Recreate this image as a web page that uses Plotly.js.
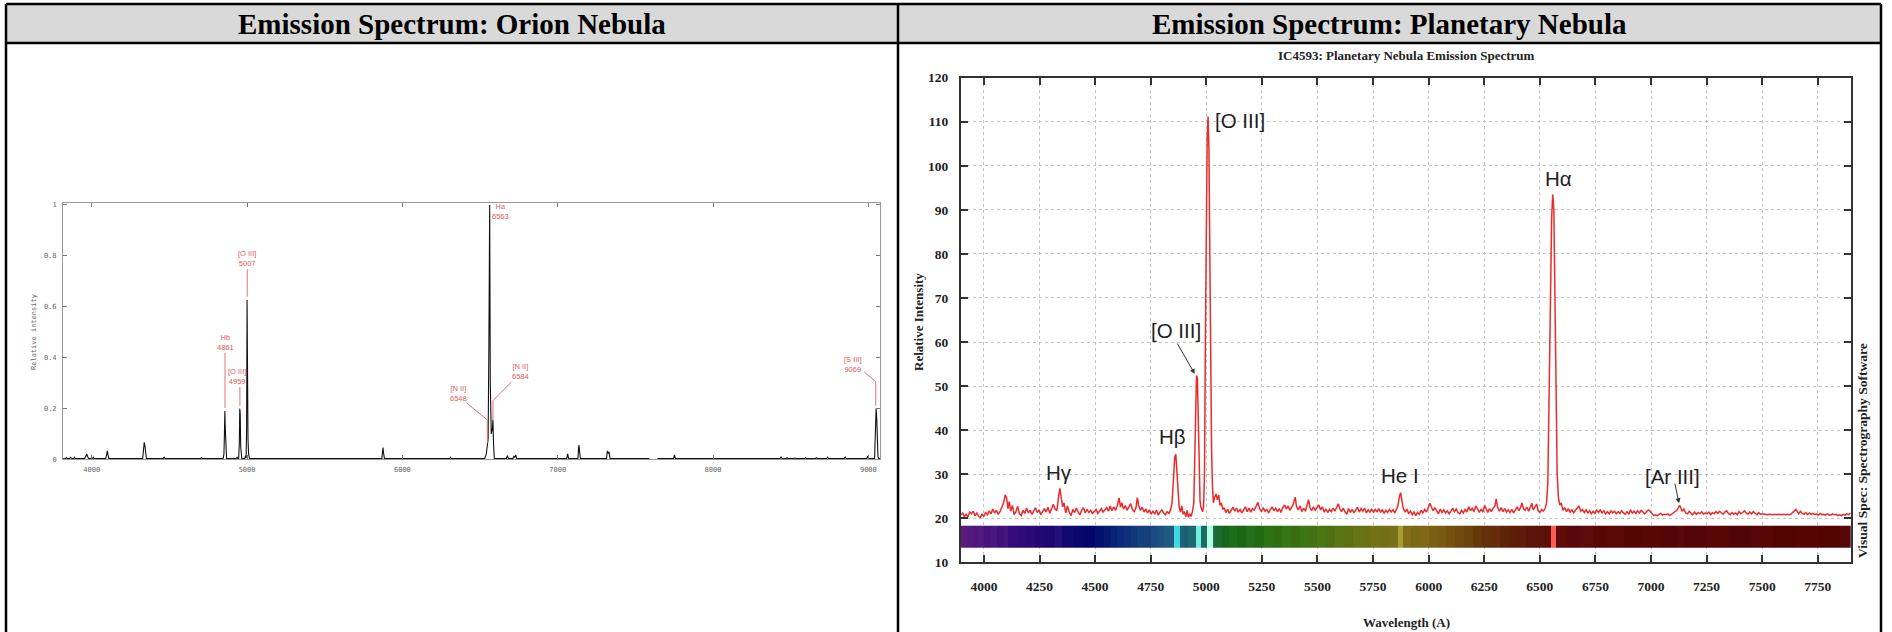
<!DOCTYPE html>
<html>
<head>
<meta charset="utf-8">
<script src="https://cdn.plot.ly/plotly-3.0.1.min.js"></script>
<style>html,body{margin:0;padding:0;background:#fff;}#chart{width:1892px;height:632px;}</style>
</head>
<body>
<div id="chart"></div>
<script>
// ---------------- Orion Nebula spectrum (left) ----------------
const orionWave = [3815,3830,3836,3842,3858,3864,3870,3884,3889,3894,3955,3962,3968,3974,3980,4005,4010,4015,4090,4096,4100,4104,4110,4328,4334,4338,4342,4346,4352,4460,4466,4472,4700,4706,4712,4846,4851,4854,4857,4860,4863,4868,4930,4936,4941,4946,4950,4953,4956,4959,4962,4966,4985,4990,4994,4997,5000,5003,5006,5010,5016,5868,5872,5875,5879,5884,6305,6310,6315,6530,6540,6546,6552,6557,6562,6566,6572,6579,6583,6587,6592,6670,6676,6682,6712,6718,6724,6730,6736,7058,7064,7070,7130,7134,7137,7141,7146,7314,7320,7326,7331,7337,7590,7592,7640,7642,7746,7752,7758,8432,8438,8444,8470,8476,8482,8520,8526,8532,8590,8596,8602,8660,8666,8672,8732,8738,8744,8845,8851,8857,8990,8996,9002,9040,9046,9050,9054,9058,9062,9066,9075];
const orionIntensity = [0.002,0.003,0.007,0.003,0.003,0.008,0.004,0.003,0.008,0.003,0.003,0.012,0.021,0.010,0.003,0.003,0.008,0.003,0.003,0.018,0.033,0.020,0.003,0.003,0.030,0.067,0.055,0.020,0.003,0.003,0.008,0.003,0.003,0.006,0.003,0.003,0.020,0.090,0.190,0.120,0.040,0.003,0.003,0.008,0.003,0.003,0.060,0.200,0.180,0.050,0.020,0.003,0.003,0.014,0.005,0.120,0.626,0.260,0.080,0.020,0.003,0.003,0.030,0.046,0.025,0.003,0.003,0.008,0.003,0.003,0.020,0.050,0.080,0.460,1.000,0.300,0.100,0.120,0.155,0.060,0.003,0.003,0.014,0.003,0.003,0.012,0.008,0.017,0.003,0.003,0.021,0.003,0.003,0.040,0.056,0.030,0.003,0.003,0.033,0.025,0.028,0.003,0.003,null,null,0.003,0.003,0.017,0.003,0.003,0.010,0.003,0.003,0.006,0.003,0.003,0.005,0.003,0.003,0.007,0.003,0.003,0.006,0.003,0.003,0.008,0.003,0.003,0.009,0.003,0.003,0.012,0.003,0.003,0.100,0.200,0.160,0.060,0.010,0.003,0.003];
const orionTickVals = [4000,5000,6000,7000,8000,9000];
const orionLabels = ['Hb<br>4861','[O III]<br>4959','[O III]<br>5007','[N II]<br>6548','Ha<br>6563','[N II]<br>6584','[S III]<br>9069'];
const orionLabelWave = [4858,4936,5001,6362,6632,6759,8903];
const orionLabelVal = [0.46,0.326,0.788,0.259,0.974,0.345,0.373];
const orionLeaderWave = [[4858,4858],[4954,4954],[5001,5001],[6414,6547,6547],[],[6701,6583,6583],[8974,9048,9048]];
const orionLeaderVal = [[0.418,0.202],[0.284,0.21],[0.748,0.639],[0.221,0.155,0.064],[],[0.304,0.23,0.155],[0.343,0.305,0.21]];

// ---------------- Planetary nebula IC4593 spectrum (right) ----------------
const planWave = [3897,3905,3912,3920,3928,3936,3944,3952,3960,3968,3976,3984,3992,4000,4008,4016,4024,4032,4040,4048,4056,4064,4072,4080,4088,4096,4102,4108,4114,4120,4128,4136,4144,4152,4160,4168,4176,4184,4192,4200,4208,4216,4224,4232,4240,4248,4256,4264,4272,4280,4288,4296,4304,4312,4320,4328,4336,4342,4348,4354,4360,4368,4376,4384,4392,4400,4408,4416,4424,4432,4440,4448,4456,4464,4472,4480,4488,4496,4504,4512,4520,4528,4536,4544,4552,4560,4568,4576,4584,4592,4600,4608,4614,4620,4628,4636,4644,4652,4660,4668,4676,4684,4690,4696,4704,4712,4720,4728,4736,4744,4752,4760,4768,4776,4784,4792,4800,4808,4816,4824,4832,4840,4846,4852,4858,4863,4868,4873,4878,4884,4890,4896,4902,4908,4914,4920,4926,4932,4938,4944,4948,4952,4956,4960,4964,4968,4972,4976,4980,4984,4988,4992,4996,5000,5004,5008,5012,5016,5020,5024,5028,5032,5038,5044,5050,5056,5062,5068,5074,5080,5088,5096,5104,5112,5120,5128,5136,5144,5152,5160,5168,5176,5184,5192,5200,5208,5216,5224,5232,5240,5248,5256,5264,5272,5280,5288,5296,5304,5312,5320,5328,5336,5344,5352,5360,5368,5376,5384,5392,5400,5406,5414,5422,5430,5438,5446,5454,5460,5466,5474,5482,5490,5498,5506,5514,5522,5530,5538,5546,5554,5562,5570,5578,5586,5594,5600,5608,5616,5624,5632,5640,5648,5656,5664,5672,5680,5688,5696,5704,5712,5720,5728,5736,5744,5752,5760,5768,5776,5784,5792,5800,5808,5816,5824,5832,5840,5848,5856,5862,5868,5874,5880,5886,5894,5902,5910,5918,5926,5934,5942,5950,5958,5966,5974,5982,5990,5998,6006,6012,6020,6028,6036,6044,6052,6060,6068,6076,6084,6092,6100,6108,6116,6124,6132,6140,6148,6156,6164,6172,6180,6188,6196,6204,6212,6220,6228,6236,6244,6252,6258,6266,6274,6282,6290,6298,6304,6310,6318,6326,6334,6342,6350,6358,6366,6374,6382,6390,6398,6406,6414,6420,6426,6434,6442,6450,6458,6464,6470,6478,6486,6492,6500,6508,6516,6524,6530,6536,6542,6548,6553,6558,6563,6568,6573,6578,6584,6590,6596,6604,6612,6620,6628,6636,6644,6652,6660,6668,6676,6684,6692,6700,6708,6716,6724,6732,6740,6748,6756,6764,6772,6780,6788,6796,6804,6812,6820,6828,6836,6844,6852,6860,6868,6876,6884,6892,6900,6908,6916,6924,6932,6940,6948,6956,6964,6972,6980,6988,6996,7004,7012,7020,7028,7036,7044,7052,7060,7068,7076,7084,7092,7100,7108,7116,7122,7128,7134,7140,7148,7156,7164,7172,7180,7188,7196,7204,7212,7220,7228,7236,7244,7252,7260,7268,7276,7284,7292,7300,7308,7316,7324,7332,7340,7348,7356,7364,7372,7380,7388,7396,7404,7412,7420,7428,7436,7444,7452,7460,7468,7476,7484,7492,7500,7508,7516,7524,7532,7540,7548,7556,7564,7572,7580,7588,7596,7604,7612,7620,7628,7636,7644,7652,7658,7664,7672,7680,7688,7696,7704,7712,7720,7728,7736,7744,7752,7760,7768,7776,7784,7792,7800,7808,7816,7824,7832,7840,7848,7856,7864,7872,7880,7888,7898];
const planIntensity = [20.8,21.2,20.4,20.9,20.3,21.4,21.0,21.6,20.6,21.2,20.4,20.2,20.9,20.5,21.3,20.8,21.7,21.0,22.1,21.2,21.8,20.9,21.5,22.6,23.4,25.3,24.6,22.2,23.8,21.6,22.9,20.8,21.5,22.7,21.0,20.6,21.8,21.1,22.3,21.2,21.8,20.9,21.6,22.4,21.3,21.9,20.8,21.7,22.2,21.4,22.5,21.1,22.0,23.2,22.1,21.7,25.0,26.8,24.6,22.6,23.5,21.2,22.8,21.3,20.6,22.0,21.3,22.3,21.4,20.8,21.9,22.4,21.2,22.0,21.3,21.8,21.1,21.5,22.0,21.1,21.7,22.2,21.4,21.9,22.4,21.6,22.8,21.7,22.6,21.8,22.9,24.6,22.5,23.5,22.1,22.9,21.8,22.6,23.3,22.0,21.5,22.4,24.7,22.9,21.8,22.5,21.4,22.1,21.2,21.9,20.9,21.6,21.0,21.8,20.7,21.4,21.9,21.2,20.8,21.5,21.1,22.0,23.5,28.5,33.8,34.5,31.0,25.5,22.6,21.4,22.8,20.9,21.5,20.3,21.8,20.2,21.0,20.4,21.6,23.5,35.0,45.0,52.4,51.8,42.0,30.0,24.0,22.5,22.0,21.5,22.8,30.0,60.0,85.0,106.0,111.2,104.0,80.0,55.0,35.0,27.0,23.5,24.8,25.5,24.2,25.3,22.9,23.5,22.0,22.4,21.3,22.0,21.1,21.8,22.5,21.6,22.3,21.4,22.0,21.2,21.9,22.6,21.5,22.3,21.4,22.2,21.8,22.9,23.6,22.1,21.5,22.4,21.6,22.0,21.2,21.9,22.6,21.7,22.3,21.5,22.2,21.3,22.4,23.0,22.1,22.8,21.8,22.5,23.3,24.8,22.6,21.9,22.8,21.5,22.3,21.6,22.9,24.2,22.5,21.7,22.6,21.8,22.4,23.0,21.9,22.6,21.4,22.1,21.3,22.0,21.5,22.3,21.6,22.4,23.3,22.2,21.5,22.3,21.4,21.0,22.2,21.3,22.0,21.2,21.8,22.5,21.4,22.2,21.6,22.3,21.2,21.9,21.4,22.1,21.3,22.0,21.5,22.2,21.4,21.9,21.1,21.8,21.3,22.0,21.4,21.9,21.2,22.0,22.8,24.8,25.8,24.0,22.2,21.5,22.0,21.1,21.6,20.8,21.4,20.6,21.3,20.9,21.8,21.2,22.0,21.4,22.4,23.4,22.6,21.7,22.4,21.5,21.0,22.1,21.3,21.9,21.2,21.7,21.0,21.6,22.3,21.5,22.1,21.3,21.0,21.8,21.2,22.0,21.4,22.6,21.7,22.3,21.5,22.8,22.0,21.3,22.1,21.4,22.9,22.0,21.3,22.2,21.5,22.3,22.8,24.4,22.5,21.6,22.4,21.5,22.2,21.4,21.9,21.3,22.0,21.2,21.8,22.6,21.7,22.5,23.5,22.2,21.8,22.5,21.6,22.8,23.4,21.9,22.6,23.2,21.7,21.3,22.0,21.6,22.2,23.5,28.0,45.0,70.0,88.0,93.5,90.0,70.0,45.0,30.0,24.5,23.0,23.5,21.8,22.4,21.5,22.2,21.4,21.9,21.2,21.8,22.3,22.8,21.6,22.0,21.3,21.9,21.2,21.7,21.0,21.6,21.1,21.8,21.3,21.9,21.2,21.7,21.0,21.5,21.0,21.7,21.2,21.6,21.0,21.5,21.1,21.7,21.2,20.9,21.5,21.0,21.8,21.2,21.6,21.1,21.7,21.2,21.8,21.3,21.0,21.5,21.9,21.6,21.0,20.6,20.8,20.6,20.9,21.1,20.7,20.9,20.8,21.0,20.6,20.9,21.1,21.3,21.8,22.3,22.9,22.4,21.6,22.1,21.2,21.0,21.6,21.1,20.8,21.4,20.9,21.3,21.0,21.5,20.9,21.2,21.0,21.4,20.8,21.3,21.0,21.5,21.1,21.6,21.2,20.9,21.4,21.7,21.1,20.8,21.3,20.9,21.2,20.8,21.5,21.0,21.3,21.7,21.2,20.9,21.4,21.0,21.5,21.1,20.8,21.3,20.9,21.0,20.9,20.8,20.8,20.9,20.8,20.8,20.9,20.8,20.9,20.8,20.8,20.9,20.8,20.9,20.8,20.9,21.2,21.6,22.0,21.5,21.0,21.6,21.1,20.9,21.3,20.8,21.2,20.9,21.1,20.8,21.0,20.7,21.1,20.8,20.9,20.7,21.0,20.8,20.7,21.0,20.8,20.9,20.6,20.8,20.6,20.9,20.7,21.0,20.8,21.2];
const planLabels = ['Hγ','Hβ','[O III]','[O III]','He I','Hα','[Ar III]'];
const planLabelWave = [4336,4850,4863,5152,5870,6585,7097];
const planLabelVal = [30.3,38.6,62.7,110.3,29.7,97.2,29.5];
const planArrowTailWave = [4866,7106];
const planArrowTailVal = [60.0,28.2];
const planArrowHeadWave = [4948,7126];
const planArrowHeadVal = [52.8,23.4];

// colour strip under the planetary spectrum (band edges in Angstrom, one colour per band)
const barEdges = [3897,3920,3950,3975,4000,4030,4060,4090,4110,4150,4190,4230,4270,4320,4350,4400,4450,4500,4540,4570,4600,4630,4660,4690,4720,4750,4780,4810,4856,4882,4900,4920,4955,4975,5005,5028,5040,5070,5100,5140,5180,5220,5260,5300,5340,5380,5420,5460,5500,5540,5580,5620,5660,5700,5740,5780,5820,5862,5885,5920,5960,6000,6040,6080,6120,6160,6200,6240,6280,6320,6360,6400,6440,6480,6520,6548,6572,6620,6680,6740,6800,6880,6960,7040,7120,7150,7250,7350,7450,7550,7650,7750,7850,7898];
const barColors = ['#5b1b7b','#561a7a','#4e1679','#521a80','#46137a','#4a1780','#3e1078','#44167f','#360d78','#300b76','#2a0a74','#240872','#1e0870','#23107a','#120870','#08076c','#02066a','#03106e','#061a72','#0a2276','#0c2a7a','#0e2f7a','#12387c','#15407e','#183f7a','#1b4a7e','#1d5280','#205a80','#3fd7e0','#1f6478','#1a5e70','#1e6a72','#6ff0e0','#1c6a66','#b0ffe0','#1e6e50','#1a6a2c','#17661e','#1c6e18','#1a6614','#22701a','#226a12','#2a7416','#2c6e10','#347616','#366e10','#3c7614','#427012','#4a7614','#4e7012','#587614','#5c7012','#667414','#6a7014','#727416','#746e14','#7a7218','#a69e30','#827018','#7a6a14','#806816','#7a6012','#785a12','#72520e','#6e4a0e','#6a420c','#66380a','#62300a','#662c0c','#5e2408','#5c1e08','#5e1a0a','#5a1408','#5c1208','#5a0e08','#ff5a55','#5e0a08','#580808','#5c0a0a','#560606','#5a0808','#540606','#580707','#540505','#5c0808','#540505','#580606','#520505','#560606','#520404','#560505','#520404','#580606'];
const barBand = [13.4, 18.3];

// ---------------- page geometry helpers ----------------
const W = 1892, H = 632;
const px = v => v / W;
const py = v => 1 - v / H;

const serif = 'Liberation Serif, Times New Roman, serif';
const sans = 'Liberation Sans, Arial, sans-serif';
const mono = 'DejaVu Sans Mono, monospace';

// leader lines for the Orion labels, joined with gaps
const leaderX = [], leaderY = [];
orionLeaderWave.forEach((seg, i) => {
  if (!seg.length) return;
  seg.forEach((w, j) => { leaderX.push(w); leaderY.push(orionLeaderVal[i][j]); });
  leaderX.push(null); leaderY.push(null);
});

const traces = [
  { type: 'scatter', mode: 'lines', x: orionWave, y: orionIntensity, xaxis: 'x', yaxis: 'y',
    line: { color: '#111', width: 1.1 }, connectgaps: false, hoverinfo: 'skip' },
  { type: 'scatter', mode: 'lines', x: leaderX, y: leaderY, xaxis: 'x', yaxis: 'y',
    line: { color: '#e27272', width: 1 }, connectgaps: false, hoverinfo: 'skip' },
  { type: 'heatmap', x: barEdges, y: barBand, z: [barColors.map((c, i) => i)], xaxis: 'x2', yaxis: 'y2',
    colorscale: barColors.map((c, i) => [i / (barColors.length - 1), c]), zmin: 0, zmax: barColors.length - 1,
    showscale: false, zsmooth: false, hoverinfo: 'skip' },
  { type: 'scatter', mode: 'lines', x: planWave, y: planIntensity, xaxis: 'x2', yaxis: 'y2',
    line: { color: '#ea2b2b', width: 1.5 }, hoverinfo: 'skip' }
];

const annotations = [];
// header cells
annotations.push({ xref: 'paper', yref: 'paper', x: px(452), y: py(24), text: 'Emission Spectrum: Orion Nebula', showarrow: false,
  font: { family: serif, size: 29, color: '#000', weight: 'bold' }, xanchor: 'center', yanchor: 'middle' });
annotations.push({ xref: 'paper', yref: 'paper', x: px(1389.5), y: py(24), text: 'Emission Spectrum: Planetary Nebula', showarrow: false,
  font: { family: serif, size: 29, color: '#000', weight: 'bold' }, xanchor: 'center', yanchor: 'middle' });
// Orion axis title
annotations.push({ xref: 'paper', yref: 'paper', x: px(34), y: py(332), text: 'Relative intensity', textangle: -90, showarrow: false,
  font: { family: mono, size: 7, color: '#666' }, xanchor: 'center', yanchor: 'middle' });
// Orion line labels
orionLabels.forEach((t, i) => annotations.push({ xref: 'x', yref: 'y', x: orionLabelWave[i], y: orionLabelVal[i], text: t,
  showarrow: false, font: { family: sans, size: 7.5, color: '#e05a5a' }, xanchor: 'center', yanchor: 'middle' }));
// planetary chart titles
annotations.push({ xref: 'paper', yref: 'paper', x: px(1406), y: py(55), text: 'IC4593: Planetary Nebula Emission Spectrum', showarrow: false,
  font: { family: serif, size: 13, color: '#222', weight: 'bold' }, xanchor: 'center', yanchor: 'middle' });
annotations.push({ xref: 'paper', yref: 'paper', x: px(918), y: py(322), text: 'Relative Intensity', textangle: -90, showarrow: false,
  font: { family: serif, size: 13, color: '#222', weight: 'bold' }, xanchor: 'center', yanchor: 'middle' });
annotations.push({ xref: 'paper', yref: 'paper', x: px(1406), y: py(622), text: 'Wavelength (A)', showarrow: false,
  font: { family: serif, size: 13, color: '#222', weight: 'bold' }, xanchor: 'center', yanchor: 'middle' });
annotations.push({ xref: 'paper', yref: 'paper', x: px(1862), y: py(451), text: 'Visual Spec: Spectrography Software', textangle: -90, showarrow: false,
  font: { family: serif, size: 13.5, color: '#222', weight: 'bold' }, xanchor: 'center', yanchor: 'middle' });
// planetary line labels
planLabels.forEach((t, i) => annotations.push({ xref: 'x2', yref: 'y2', x: planLabelWave[i], y: planLabelVal[i], text: t,
  showarrow: false, font: { family: sans, size: 20.5, color: '#222' }, xanchor: 'center', yanchor: 'middle' }));
planArrowHeadWave.forEach((w, i) => annotations.push({ xref: 'x2', yref: 'y2', x: w, y: planArrowHeadVal[i],
  axref: 'x2', ayref: 'y2', ax: planArrowTailWave[i], ay: planArrowTailVal[i], text: '', showarrow: true,
  arrowhead: 2, arrowsize: 1, arrowwidth: 1, arrowcolor: '#333', standoff: 0, startstandoff: 0 }));

const lineStyle = { color: '#000', width: 2.5 };
const shapes = [
  { type: 'rect', xref: 'paper', yref: 'paper', x0: px(6), x1: px(1881), y0: py(43), y1: py(4), fillcolor: '#d9d9d9', line: { width: 0 }, layer: 'below' },
  { type: 'line', xref: 'paper', yref: 'paper', x0: px(6), x1: px(1881), y0: py(4), y1: py(4), line: lineStyle },
  { type: 'line', xref: 'paper', yref: 'paper', x0: px(6), x1: px(1881), y0: py(43), y1: py(43), line: lineStyle },
  { type: 'line', xref: 'paper', yref: 'paper', x0: px(6), x1: px(6), y0: py(4), y1: py(640), line: lineStyle },
  { type: 'line', xref: 'paper', yref: 'paper', x0: px(898), x1: px(898), y0: py(4), y1: py(640), line: lineStyle },
  { type: 'line', xref: 'paper', yref: 'paper', x0: px(1881), x1: px(1881), y0: py(4), y1: py(640), line: lineStyle }
];

const layout = {
  width: W, height: H, margin: { l: 0, r: 0, t: 0, b: 0 },
  paper_bgcolor: '#fff', plot_bgcolor: '#fff', showlegend: false,
  xaxis: { domain: [px(63), px(880)], range: [3815, 9075], anchor: 'y', tickvals: orionTickVals,
    ticks: 'inside', ticklen: 4, tickwidth: 1, tickcolor: '#777', mirror: 'ticks', showline: true, linecolor: '#999', linewidth: 1,
    showgrid: false, zeroline: false, tickfont: { family: mono, size: 7, color: '#666' }, ticklabelstandoff: 3 },
  yaxis: { domain: [py(459.3), py(202.7)], range: [0, 1.009], anchor: 'x', tick0: 0, dtick: 0.2,
    ticks: 'inside', ticklen: 4, tickwidth: 1, tickcolor: '#777', mirror: 'ticks', showline: true, linecolor: '#999', linewidth: 1,
    showgrid: false, zeroline: false, tickfont: { family: mono, size: 7, color: '#666' }, ticklabelstandoff: 4 },
  xaxis2: { domain: [px(961), px(1850.7)], range: [3897, 7898], anchor: 'y2', tick0: 4000, dtick: 250,
    ticks: 'inside', ticklen: 7, tickwidth: 2, tickcolor: '#333', mirror: 'ticks', showline: true, linecolor: '#333', linewidth: 2,
    showgrid: true, gridcolor: '#c4c4c4', griddash: 'dot', gridwidth: 1, zeroline: false,
    tickfont: { family: serif, size: 13.5, color: '#222', weight: 'bold' }, ticklabelstandoff: 10 },
  yaxis2: { domain: [py(562.3), py(77.7)], range: [10, 120], anchor: 'x2', tick0: 0, dtick: 10,
    ticks: 'inside', ticklen: 7, tickwidth: 2, tickcolor: '#333', mirror: 'ticks', showline: true, linecolor: '#333', linewidth: 2,
    showgrid: true, gridcolor: '#c4c4c4', griddash: 'dot', gridwidth: 1, zeroline: false,
    tickfont: { family: serif, size: 13.5, color: '#222', weight: 'bold' }, ticklabelstandoff: 8 },
  annotations: annotations,
  shapes: shapes
};

Plotly.newPlot('chart', traces, layout, { staticPlot: true, displayModeBar: false });
</script>
</body>
</html>
